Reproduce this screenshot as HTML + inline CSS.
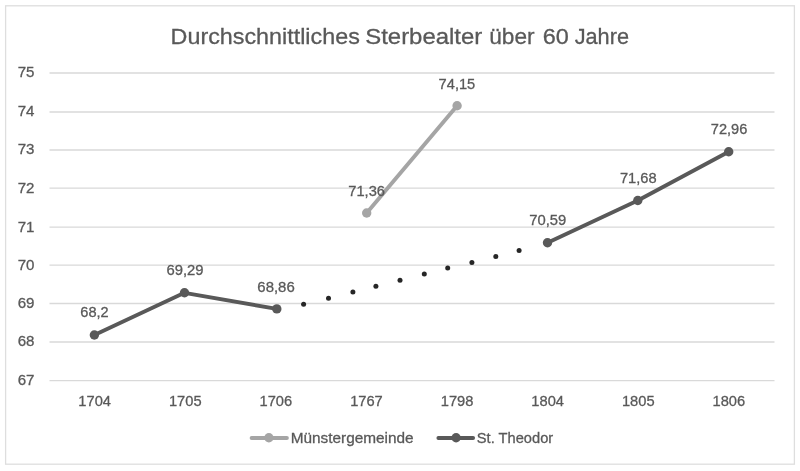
<!DOCTYPE html>
<html><head><meta charset="utf-8"><title>Durchschnittliches Sterbealter über 60 Jahre</title>
<style>html,body{margin:0;padding:0;background:#fff;}svg{display:block;will-change:transform;}text{stroke:#595959;stroke-width:0.3px;}</style></head>
<body><svg width="800" height="471" viewBox="0 0 800 471" font-family="'Liberation Sans', Arial, sans-serif" fill="#595959">
<rect x="5.6" y="5.8" width="788.8" height="458.4" fill="#fff" stroke="#dedede" stroke-width="1.3"/>
<text x="170.63" y="44.00" font-size="22.6" textLength="189.18" lengthAdjust="spacingAndGlyphs">Durchschnittliches</text>
<text x="365.22" y="44.00" font-size="22.6" textLength="117.08" lengthAdjust="spacingAndGlyphs">Sterbealter</text>
<text x="489.21" y="44.00" font-size="22.6" textLength="45.36" lengthAdjust="spacingAndGlyphs">über</text>
<text x="542.83" y="44.00" font-size="22.6" textLength="26.05" lengthAdjust="spacingAndGlyphs">60</text>
<text x="574.67" y="44.00" font-size="22.6" textLength="54.34" lengthAdjust="spacingAndGlyphs">Jahre</text>
<line x1="49.5" y1="73.00" x2="774.5" y2="73.00" stroke="#d9d9d9" stroke-width="1.3"/>
<text x="17.65" y="77.30" font-size="15.0" textLength="16.79" lengthAdjust="spacingAndGlyphs">75</text>
<line x1="49.5" y1="112.00" x2="774.5" y2="112.00" stroke="#d9d9d9" stroke-width="1.3"/>
<text x="17.65" y="116.30" font-size="15.0" textLength="16.79" lengthAdjust="spacingAndGlyphs">74</text>
<line x1="49.5" y1="150.00" x2="774.5" y2="150.00" stroke="#d9d9d9" stroke-width="1.3"/>
<text x="17.65" y="154.30" font-size="15.0" textLength="16.79" lengthAdjust="spacingAndGlyphs">73</text>
<line x1="49.5" y1="188.20" x2="774.5" y2="188.20" stroke="#d9d9d9" stroke-width="1.3"/>
<text x="17.65" y="192.50" font-size="15.0" textLength="16.79" lengthAdjust="spacingAndGlyphs">72</text>
<line x1="49.5" y1="227.20" x2="774.5" y2="227.20" stroke="#d9d9d9" stroke-width="1.3"/>
<text x="17.65" y="231.50" font-size="15.0" textLength="16.79" lengthAdjust="spacingAndGlyphs">71</text>
<line x1="49.5" y1="265.20" x2="774.5" y2="265.20" stroke="#d9d9d9" stroke-width="1.3"/>
<text x="17.65" y="269.50" font-size="15.0" textLength="16.79" lengthAdjust="spacingAndGlyphs">70</text>
<line x1="49.5" y1="303.50" x2="774.5" y2="303.50" stroke="#d9d9d9" stroke-width="1.3"/>
<text x="17.65" y="307.80" font-size="15.0" textLength="16.79" lengthAdjust="spacingAndGlyphs">69</text>
<line x1="49.5" y1="342.00" x2="774.5" y2="342.00" stroke="#d9d9d9" stroke-width="1.3"/>
<text x="17.65" y="346.30" font-size="15.0" textLength="16.79" lengthAdjust="spacingAndGlyphs">68</text>
<line x1="49.5" y1="380.70" x2="774.5" y2="380.70" stroke="#d9d9d9" stroke-width="1.3"/>
<text x="17.65" y="385.00" font-size="15.0" textLength="16.79" lengthAdjust="spacingAndGlyphs">67</text>
<text x="78.35" y="406.20" font-size="15.0" textLength="32.63" lengthAdjust="spacingAndGlyphs">1704</text>
<text x="168.95" y="406.20" font-size="15.0" textLength="32.63" lengthAdjust="spacingAndGlyphs">1705</text>
<text x="259.55" y="406.20" font-size="15.0" textLength="32.63" lengthAdjust="spacingAndGlyphs">1706</text>
<text x="350.15" y="406.20" font-size="15.0" textLength="32.63" lengthAdjust="spacingAndGlyphs">1767</text>
<text x="440.75" y="406.20" font-size="15.0" textLength="32.63" lengthAdjust="spacingAndGlyphs">1798</text>
<text x="531.35" y="406.20" font-size="15.0" textLength="32.63" lengthAdjust="spacingAndGlyphs">1804</text>
<text x="621.95" y="406.20" font-size="15.0" textLength="32.63" lengthAdjust="spacingAndGlyphs">1805</text>
<text x="712.55" y="406.20" font-size="15.0" textLength="32.63" lengthAdjust="spacingAndGlyphs">1806</text>
<polyline points="94.35,335.0 184.5,292.8 276.8,308.9" fill="none" stroke="#595959" stroke-width="3.9" stroke-linejoin="round" stroke-linecap="round"/>
<polyline points="547.5,242.75 637.8,200.5 728.7,151.8" fill="none" stroke="#595959" stroke-width="3.9" stroke-linejoin="round" stroke-linecap="round"/>
<circle cx="303.6" cy="304.3" r="2.5" fill="#262626"/>
<circle cx="328.5" cy="298.2" r="2.5" fill="#262626"/>
<circle cx="352.9" cy="291.9" r="2.5" fill="#262626"/>
<circle cx="375.9" cy="286.2" r="2.5" fill="#262626"/>
<circle cx="400.0" cy="280.2" r="2.5" fill="#262626"/>
<circle cx="424.3" cy="274.1" r="2.5" fill="#262626"/>
<circle cx="447.7" cy="268.1" r="2.5" fill="#262626"/>
<circle cx="471.9" cy="262.4" r="2.5" fill="#262626"/>
<circle cx="495.8" cy="256.4" r="2.5" fill="#262626"/>
<circle cx="519.1" cy="250.4" r="2.5" fill="#262626"/>
<polyline points="366.7,213.0 457.1,105.8" fill="none" stroke="#a5a5a5" stroke-width="3.9" stroke-linejoin="round" stroke-linecap="round"/>
<circle cx="94.35" cy="335.0" r="4.7" fill="#595959"/>
<circle cx="184.5" cy="292.8" r="4.7" fill="#595959"/>
<circle cx="276.8" cy="308.9" r="4.7" fill="#595959"/>
<circle cx="547.5" cy="242.75" r="4.7" fill="#595959"/>
<circle cx="637.8" cy="200.5" r="4.7" fill="#595959"/>
<circle cx="728.7" cy="151.8" r="4.7" fill="#595959"/>
<circle cx="366.7" cy="213.0" r="4.7" fill="#a5a5a5"/>
<circle cx="457.1" cy="105.8" r="4.7" fill="#a5a5a5"/>
<text x="80.32" y="317.40" font-size="15.0" textLength="28.38" lengthAdjust="spacingAndGlyphs">68,2</text>
<text x="166.53" y="274.90" font-size="15.0" textLength="37.10" lengthAdjust="spacingAndGlyphs">69,29</text>
<text x="257.35" y="291.65" font-size="15.0" textLength="37.38" lengthAdjust="spacingAndGlyphs">68,86</text>
<text x="348.29" y="195.70" font-size="15.0" textLength="36.71" lengthAdjust="spacingAndGlyphs">71,36</text>
<text x="438.62" y="88.50" font-size="15.0" textLength="36.65" lengthAdjust="spacingAndGlyphs">74,15</text>
<text x="529.26" y="225.40" font-size="15.0" textLength="37.04" lengthAdjust="spacingAndGlyphs">70,59</text>
<text x="619.89" y="183.00" font-size="15.0" textLength="36.71" lengthAdjust="spacingAndGlyphs">71,68</text>
<text x="710.80" y="133.80" font-size="15.0" textLength="36.50" lengthAdjust="spacingAndGlyphs">72,96</text>
<line x1="251.6" y1="438" x2="286.9" y2="438" stroke="#a5a5a5" stroke-width="3.9" stroke-linecap="round"/>
<circle cx="268.9" cy="437.8" r="4.7" fill="#a5a5a5"/>
<text x="290.67" y="443.00" font-size="15.2" textLength="123.01" lengthAdjust="spacingAndGlyphs">Münstergemeinde</text>
<line x1="438.4" y1="438" x2="473.1" y2="438" stroke="#595959" stroke-width="3.9" stroke-linecap="round"/>
<circle cx="456.1" cy="437.8" r="4.7" fill="#595959"/>
<text x="476.84" y="443.00" font-size="15.2" textLength="76.41" lengthAdjust="spacingAndGlyphs">St. Theodor</text>
</svg></body></html>
